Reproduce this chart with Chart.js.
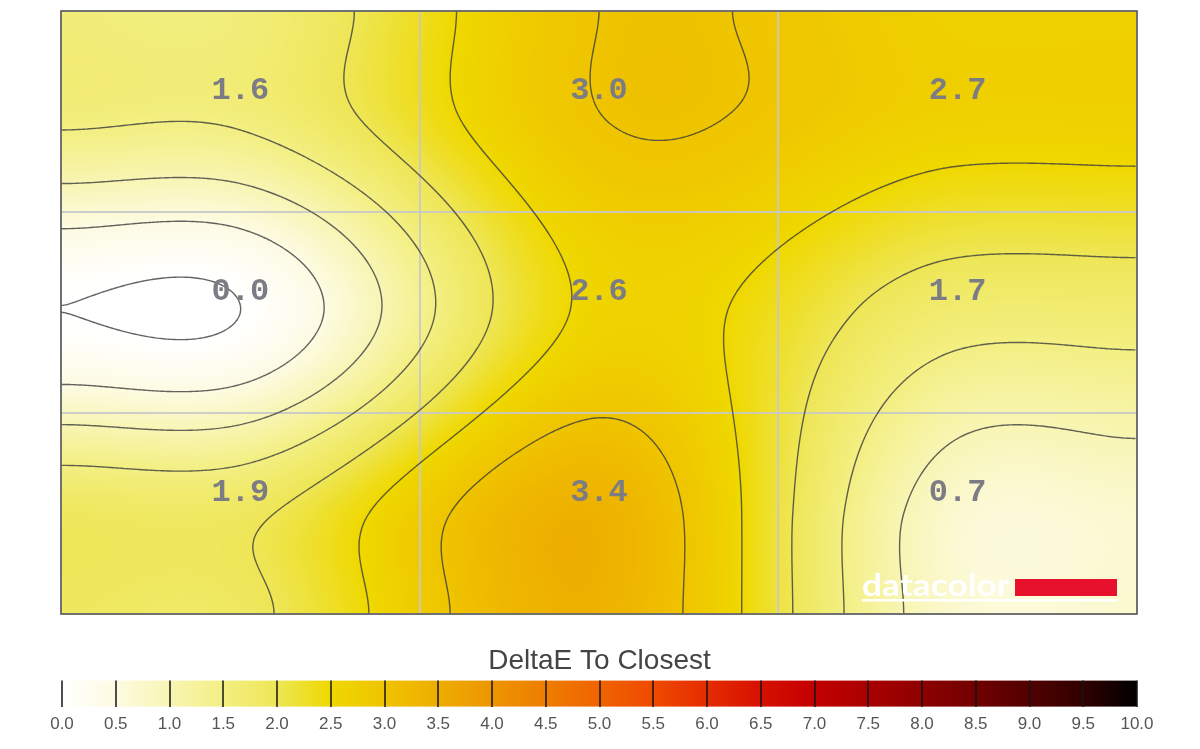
<!DOCTYPE html>
<html>
<head>
<meta charset="utf-8">
<script src="https://cdn.jsdelivr.net/npm/chart.js@4.4.1/dist/chart.umd.min.js"></script>
<style>
  body { margin: 0; background: #fff; }
  #wrap1 { position: absolute; left: 0; top: 0; width: 1200px; height: 625px; }
  #wrap2 { position: absolute; left: 0; top: 630px; width: 1200px; height: 119px; }
</style>
</head>
<body>
<div id="wrap1"><canvas id="map"></canvas></div>
<div id="wrap2"><canvas id="bar"></canvas></div>
<script>
// measured grid: 3 x 3 patches, values at patch centres
const columns = [0.5, 1.5, 2.5];
const rows = [0.5, 1.5, 2.5];
const topRow = [1.6, 3.0, 2.7];
const middleRow = [0.0, 2.6, 1.7];
const bottomRow = [1.9, 3.4, 0.7];

const contourLevels = [0.0, 0.5, 1.0, 1.5, 2.0, 2.5, 3.0, 3.5, 4.0];

// colour scale
const scaleMin = 0;
const scaleMax = 10;
const scaleStops = [0, 0.5, 1, 1.5, 2, 2.5, 3, 3.5, 4, 4.5, 5, 5.5, 6, 6.5, 7, 7.5, 8, 8.5, 9, 9.5, 10];
const scaleColors = ["#ffffff", "#fdfbe2", "#f8f5b4", "#f3ef82", "#eee656", "#efd800", "#efc400",
  "#eead00", "#ed9500", "#ee7d00", "#f06300", "#ef4a00", "#e52c00", "#d61000", "#c20000",
  "#aa0000", "#8e0000", "#700000", "#520000", "#300000", "#000000"];

const rgbStops = scaleColors.map(c => [parseInt(c.slice(1, 3), 16), parseInt(c.slice(3, 5), 16), parseInt(c.slice(5, 7), 16)]);

function colorFor(v) {
  if (v <= scaleStops[0]) return rgbStops[0];
  if (v >= scaleStops[scaleStops.length - 1]) return rgbStops[rgbStops.length - 1];
  let k = 0;
  while (v > scaleStops[k + 1]) k++;
  const t = (v - scaleStops[k]) / (scaleStops[k + 1] - scaleStops[k]);
  const a = rgbStops[k], b = rgbStops[k + 1];
  return [a[0] + (b[0] - a[0]) * t, a[1] + (b[1] - a[1]) * t, a[2] + (b[2] - a[2]) * t];
}

const grid = [topRow, middleRow, bottomRow];
const points = [];
grid.forEach((vals, r) => {
  vals.forEach((v, c) => points.push({ x: columns[c], y: rows[r], v: v }));
});

// cubic hermite through the patch centres (catmull-rom slopes),
// flattening out to the patch value at the outer edge
function interp1(vals, t) {
  const n = vals.length;
  const at = i => vals[Math.max(0, Math.min(n - 1, i))];
  const slope = i => (at(i + 1) - at(i - 1)) / 2;
  if (t < 0) {
    const s = (t + 0.5) / 0.5;
    return vals[0] + 0.5 * slope(0) * (s * s * s - s * s);
  }
  if (t > n - 1) {
    const s = (t - (n - 1)) / 0.5;
    return vals[n - 1] + 0.5 * slope(n - 1) * (s * s * s - 2 * s * s + s);
  }
  const i = Math.min(n - 2, Math.floor(t));
  const u = t - i;
  const u2 = u * u, u3 = u2 * u;
  return vals[i] * (2 * u3 - 3 * u2 + 1) + slope(i) * (u3 - 2 * u2 + u) +
    vals[i + 1] * (3 * u2 - 2 * u3) + slope(i + 1) * (u3 - u2);
}
function surface(x, y) {
  const tx = x - columns[0];
  const ty = y - rows[0];
  const colVals = grid.map(r => interp1(r, tx));
  return interp1(colVals, ty);
}

const heatPlugin = {
  id: "heat",
  beforeDraw(chart) {
    const { ctx, chartArea: a, scales } = chart;
    const w = Math.round(a.right - a.left), h = Math.round(a.bottom - a.top);
    if (!chart.$field || chart.$field.w !== w || chart.$field.h !== h) {
      const vals = new Float32Array(w * h);
      const xs = [], ys = [];
      for (let i = 0; i < w; i++) xs.push(scales.x.getValueForPixel(a.left + i + 0.5));
      for (let j = 0; j < h; j++) ys.push(scales.y.getValueForPixel(a.top + j + 0.5));
      const img = new ImageData(w, h);
      for (let j = 0; j < h; j++) {
        for (let i = 0; i < w; i++) {
          const v = surface(xs[i], ys[j]);
          vals[j * w + i] = v;
          const c = colorFor(v);
          const o = (j * w + i) * 4;
          img.data[o] = c[0];
          img.data[o + 1] = c[1];
          img.data[o + 2] = c[2];
          img.data[o + 3] = 255;
        }
      }
      const off = document.createElement("canvas");
      off.width = w;
      off.height = h;
      off.getContext("2d").putImageData(img, 0, 0);
      chart.$field = { w, h, vals, img: off };
    }
    ctx.drawImage(chart.$field.img, a.left, a.top, w, h);
  },
  afterDatasetsDraw(chart) {
    const { ctx, chartArea: a, scales } = chart;
    const f = chart.$field;
    const s = 2;
    const nx = Math.floor((f.w - 1) / s), ny = Math.floor((f.h - 1) / s);
    const val = (i, j) => f.vals[(j * s) * f.w + i * s];

    ctx.save();
    ctx.beginPath();
    ctx.rect(a.left, a.top, f.w, f.h);
    ctx.clip();
    ctx.strokeStyle = "rgba(60,60,60,0.8)";
    ctx.lineWidth = 1.4;
    contourLevels.forEach(L => {
      ctx.beginPath();
      for (let j = 0; j < ny; j++) {
        for (let i = 0; i < nx; i++) {
          const v0 = val(i, j), v1 = val(i + 1, j), v2 = val(i + 1, j + 1), v3 = val(i, j + 1);
          const x0 = a.left + i * s + 0.5, y0 = a.top + j * s + 0.5;
          const pts = [];
          if ((v0 < L) !== (v1 < L)) pts.push([x0 + s * (L - v0) / (v1 - v0), y0]);
          if ((v1 < L) !== (v2 < L)) pts.push([x0 + s, y0 + s * (L - v1) / (v2 - v1)]);
          if ((v3 < L) !== (v2 < L)) pts.push([x0 + s * (L - v3) / (v2 - v3), y0 + s]);
          if ((v0 < L) !== (v3 < L)) pts.push([x0, y0 + s * (L - v0) / (v3 - v0)]);
          if (pts.length === 2) {
            ctx.moveTo(pts[0][0], pts[0][1]);
            ctx.lineTo(pts[1][0], pts[1][1]);
          } else if (pts.length === 4) {
            const c = (v0 + v1 + v2 + v3) / 4;
            const pairs = ((c < L) === (v0 < L)) ? [[0, 1], [2, 3]] : [[0, 3], [1, 2]];
            pairs.forEach(p => {
              ctx.moveTo(pts[p[0]][0], pts[p[0]][1]);
              ctx.lineTo(pts[p[1]][0], pts[p[1]][1]);
            });
          }
        }
      }
      ctx.stroke();
    });

    // value labels
    ctx.fillStyle = "#7c7c84";
    ctx.font = 'bold 32px "Liberation Mono", "DejaVu Sans Mono", monospace';
    ctx.textAlign = "center";
    ctx.textBaseline = "middle";
    points.forEach(p => {
      ctx.fillText(p.v.toFixed(1), scales.x.getPixelForValue(p.x), scales.y.getPixelForValue(p.y) - 21);
    });

    // datacolor mark
    ctx.font = 'bold 30px "Lato", "DejaVu Sans", sans-serif';
    ctx.textAlign = "left";
    ctx.textBaseline = "alphabetic";
    const tw = ctx.measureText("datacolor").width;
    ctx.save();
    ctx.translate(862, 596);
    ctx.scale(148 / tw, 1);
    ctx.fillStyle = "#ffffff";
    ctx.fillText("datacolor", 0, 0);
    ctx.restore();
    ctx.fillStyle = "#ffffff";
    ctx.fillRect(862, 599, 255, 2.5);
    ctx.fillStyle = "#e8112d";
    ctx.fillRect(1015, 579, 102, 17);
    ctx.restore();

    // frame
    ctx.save();
    ctx.strokeStyle = "#5a5a5a";
    ctx.lineWidth = 1.6;
    ctx.strokeRect(a.left, a.top, a.right - a.left, a.bottom - a.top);
    ctx.restore();
  }
};

new Chart(document.getElementById("map"), {
  type: "scatter",
  data: {
    datasets: [{
      data: points.map(p => ({ x: p.x, y: p.y })),
      pointRadius: 0,
      pointHoverRadius: 0
    }]
  },
  options: {
    responsive: true,
    maintainAspectRatio: false,
    animation: false,
    events: [],
    layout: { padding: { left: 61, right: 63, top: 11, bottom: 11 } },
    plugins: { legend: { display: false }, tooltip: { enabled: false } },
    scales: {
      x: {
        type: "linear", min: 0, max: 3,
        ticks: { display: false, stepSize: 1 },
        grid: { color: "rgba(200,200,200,0.9)", lineWidth: 2, drawTicks: false },
        border: { display: false }
      },
      y: {
        type: "linear", min: 0, max: 3, reverse: true,
        ticks: { display: false, stepSize: 1 },
        grid: { color: "rgba(200,200,200,0.9)", lineWidth: 2, drawTicks: false },
        border: { display: false }
      }
    }
  },
  plugins: [heatPlugin]
});

const gradientPlugin = {
  id: "gradientBar",
  beforeDraw(chart) {
    const { ctx, chartArea: a, scales } = chart;
    const g = ctx.createLinearGradient(scales.x.getPixelForValue(scaleMin), 0, scales.x.getPixelForValue(scaleMax), 0);
    scaleStops.forEach((v, i) => g.addColorStop((v - scaleMin) / (scaleMax - scaleMin), scaleColors[i]));
    ctx.fillStyle = g;
    ctx.fillRect(a.left, a.top, a.right - a.left, a.bottom - a.top);
  }
};

new Chart(document.getElementById("bar"), {
  type: "scatter",
  data: { datasets: [{ data: [] }] },
  options: {
    responsive: true,
    maintainAspectRatio: false,
    animation: false,
    events: [],
    layout: { padding: { left: 62, right: 63, top: 14, bottom: 6 } },
    plugins: {
      legend: { display: false },
      tooltip: { enabled: false },
      title: {
        display: true,
        text: "DeltaE To Closest",
        color: "#444",
        font: { size: 28, family: '"Liberation Sans", Arial, sans-serif', weight: "normal" },
        padding: { top: 0, bottom: 3 }
      }
    },
    scales: {
      x: {
        type: "linear", min: scaleMin, max: scaleMax,
        ticks: {
          stepSize: 0.5, autoSkip: false, maxRotation: 0, padding: 8,
          color: "#555",
          font: { size: 17, family: '"Liberation Sans", Arial, sans-serif' },
          callback: v => v.toFixed(1)
        },
        grid: { color: "rgba(20,20,20,0.75)", lineWidth: 2, drawTicks: false },
        border: { display: false }
      },
      y: { display: false, min: 0, max: 1 }
    }
  },
  plugins: [gradientPlugin]
});
</script>
</body>
</html>
